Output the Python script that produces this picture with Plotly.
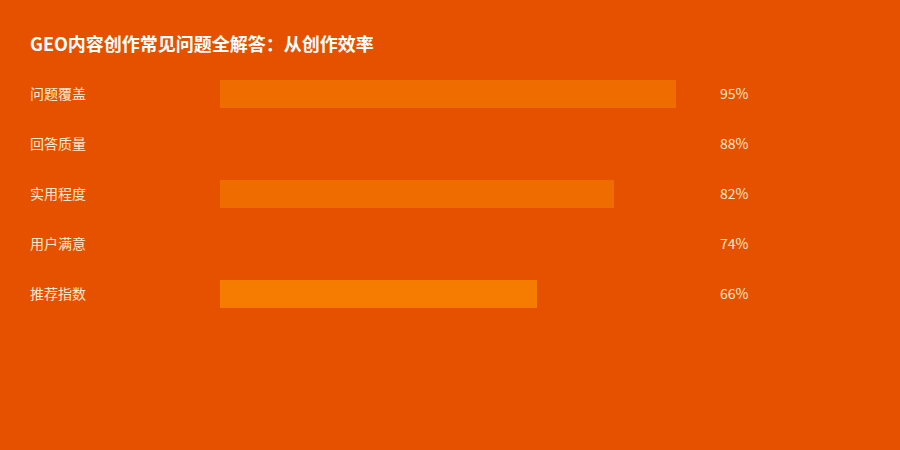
import plotly.graph_objects as go

# chart data
categories = ['问题覆盖', '回答质量', '实用程度', '用户满意', '推荐指数']
scores = [95, 88, 82, 74, 66]
bar_colors = ['#EF6C00', '#E65100', '#EF6C00', '#E65100', '#F57C00']
title_text = 'GEO内容创作常见问题全解答：从创作效率'

bg = '#E65100'
text_col = '#FFE8CC'
font_family = 'Noto Sans CJK SC, Noto Sans, sans-serif'

fig = go.Figure()

fig.add_trace(go.Bar(
    x=scores,
    y=categories,
    orientation='h',
    marker=dict(color=bar_colors, line=dict(width=0)),
    width=0.56,
    hoverinfo='x+y',
    showlegend=False,
))

# category names on the left, values on the right
annotations = []
for cat, val in zip(categories, scores):
    annotations.append(dict(
        x=-192 / 480, y=cat, xref='paper', yref='y', yshift=1,
        text=cat, showarrow=False, xanchor='left', yanchor='middle',
        font=dict(size=14, color=text_col, family=font_family),
    ))
    annotations.append(dict(
        x=498 / 480, y=cat, xref='paper', yref='y', yshift=1,
        text=f'{val}%', showarrow=False, xanchor='left', yanchor='middle',
        font=dict(size=14, color=text_col, family=font_family),
    ))

fig.update_layout(
    width=900,
    height=450,
    paper_bgcolor=bg,
    plot_bgcolor=bg,
    margin=dict(l=220, r=200, t=69, b=131),
    title=dict(
        text=f'<b>{title_text}</b>',
        x=30 / 900, xanchor='left', xref='container',
        y=1 - 45 / 450, yanchor='middle', yref='container',
        font=dict(size=18, color='#FFFFFF', family=font_family),
    ),
    annotations=annotations,
    bargap=0,
)

fig.update_xaxes(range=[0, 100], visible=False, showgrid=False, zeroline=False)
fig.update_yaxes(
    categoryorder='array', categoryarray=categories, autorange='reversed',
    showticklabels=False, showgrid=False, zeroline=False, showline=False,
)

# drop the browser's default page margin so the chart fills the window
fig.write_html(
    'out.html',
    config={'displayModeBar': False},
    post_script="document.body.style.margin='0';",
)
